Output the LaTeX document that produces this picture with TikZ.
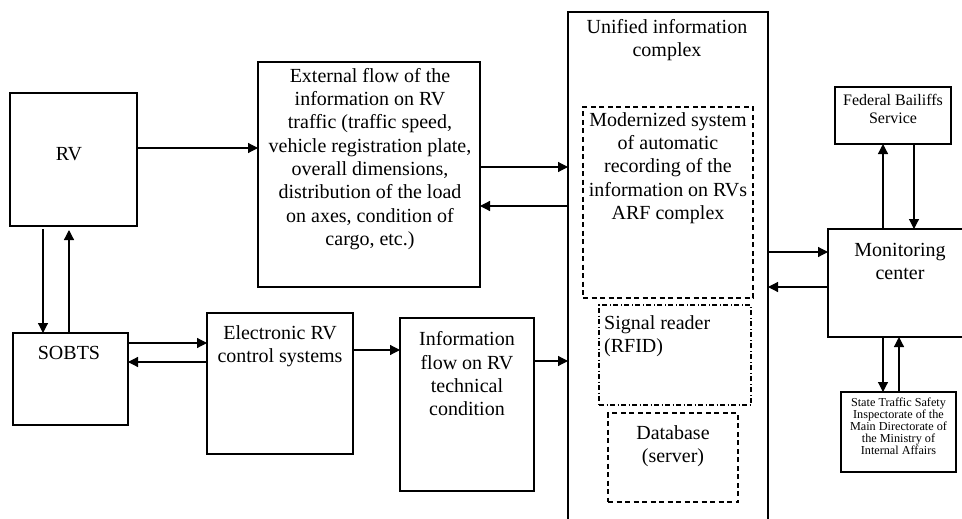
\documentclass[tikz,border=0pt]{standalone}
\usepackage{fontspec}
\setmainfont{Liberation Serif}
\usetikzlibrary{arrows.meta}
\begin{document}
\begin{tikzpicture}[x=1pt,y=-1pt,
  box/.style={draw, line width=1.7pt, inner sep=0pt, outer sep=0pt},
  nobox/.style={inner sep=0pt, outer sep=0pt},
  dbox/.style={draw, line width=1.4pt, dash pattern=on 5pt off 3.5pt, inner sep=0pt, outer sep=0pt},
  ddbox/.style={draw, line width=1.2pt, dash pattern=on 5pt off 2.5pt on 1pt off 2.5pt, inner sep=0pt, outer sep=0pt},
  arr/.style={line width=1.2pt, -{Triangle[length=10pt,width=10pt]}},
  big/.style={font=\fontsize{20}{23.3}\selectfont, align=center, inner sep=0pt},
  mid/.style={font=\fontsize{16}{18}\selectfont, align=center, inner sep=0pt},
  small/.style={font=\fontsize{12.2}{12}\selectfont, align=center, inner sep=0pt}]
\useasboundingbox (0,0) rectangle (962,519);
\fill[white] (0,0) rectangle (962,519);
% boxes
\node[box, minimum width=127, minimum height=133] (rv) at (73.5,159.5) {};
\node[box, minimum width=222, minimum height=225] (ext) at (369,174.5) {};
\node[nobox, minimum width=200, minimum height=518] (uic) at (668,271) {};
\draw[line width=1.7pt] (uic.south west) -- (uic.north west) -- (uic.north east) -- (uic.south east);
\node[dbox, minimum width=170, minimum height=191] (mod) at (668,202.5) {};
\node[ddbox, minimum width=152, minimum height=100] (sig) at (675,355) {};
\node[dbox, minimum width=130, minimum height=89] (db) at (673,457.5) {};
\node[box, minimum width=116, minimum height=57] (fed) at (893,115.5) {};
\node[nobox, minimum width=147, minimum height=108] (mon) at (901.5,283) {};
\draw[line width=1.7pt] (mon.north east) -- (mon.north west) -- (mon.south west) -- (mon.south east);
\node[box, minimum width=115, minimum height=80] (state) at (898.5,432) {};
\node[box, minimum width=115, minimum height=92] (sobts) at (70.5,379) {};
\node[box, minimum width=146, minimum height=141] (elec) at (280,383.5) {};
\node[box, minimum width=134, minimum height=173] (info) at (467,404.5) {};
% texts
\node[big] (rvt) at (69,154) {RV};
\node[big] (extt) at (370,159) {External flow of the\\information on RV\\traffic (traffic speed,\\vehicle registration plate,\\overall dimensions,\\distribution of the load\\on axes, condition of\\cargo, etc.)};
\node[big] (uict) at (667,40) {Unified information\\complex};
\node[big] (modt) at (668,168) {Modernized system\\of automatic\\recording of the\\information on RVs\\ARF complex};
\node[big, align=left, anchor=west] (sigt) at (604,336) {Signal reader\\(RFID)};
\node[big] (dbt) at (673,446) {Database\\(server)};
\node[mid] (fedt) at (893,109) {Federal Bailiffs\\Service};
\node[big] (mont) at (900,261.5) {Monitoring\\center};
\node[small] (statet) at (898.5,426) {State Traffic Safety\\Inspectorate of the\\Main Directorate of\\the Ministry of\\Internal Affairs};
\node[big] (sobtst) at (69,353) {SOBTS};
\node[big] (elect) at (280,346) {Electronic RV\\control systems};
\node[big] (infot) at (467,374) {Information\\flow on RV\\technical\\condition};
% connectors
\draw[arr] (rv.east |- 0,148) -- (ext.west |- 0,148);
\draw[arr] (ext.east |- 0,167) -- (uic.west |- 0,167);
\draw[arr] (uic.west |- 0,206) -- (ext.east |- 0,206);
\draw[arr] ([yshift=-3pt]rv.south -| 43,0) -- (sobts.north -| 43,0);
\draw[arr] (sobts.north -| 69,0) -- ([yshift=-4pt]rv.south -| 69,0);
\draw[arr] (sobts.east |- 0,343) -- (elec.west |- 0,343);
\draw[arr] (elec.west |- 0,362) -- (sobts.east |- 0,362);
\draw[arr] (elec.east |- 0,350) -- (info.west |- 0,350);
\draw[arr] (info.east |- 0,361) -- (uic.west |- 0,361);
\draw[arr] (uic.east |- 0,252) -- (mon.west |- 0,252);
\draw[arr] (mon.west |- 0,287) -- (uic.east |- 0,287);
\draw[arr] (mon.north -| 883,0) -- (fed.south -| 883,0);
\draw[arr] (fed.south -| 914,0) -- (mon.north -| 914,0);
\draw[arr] (mon.south -| 883,0) -- (state.north -| 883,0);
\draw[arr] (state.north -| 899,0) -- (mon.south -| 899,0);
\end{tikzpicture}
\end{document}
